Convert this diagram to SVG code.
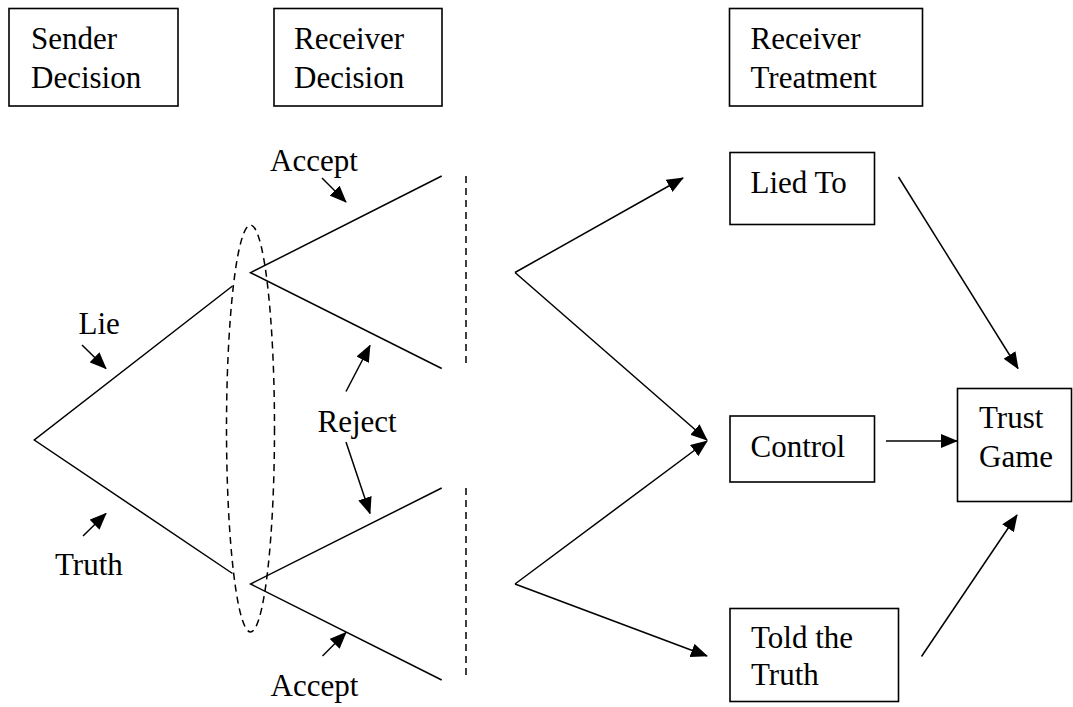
<svg xmlns="http://www.w3.org/2000/svg" width="1073" height="707" viewBox="0 0 1073 707">
<style>
.box{fill:#fff;stroke:#000;stroke-width:1.6}
.t{font-family:"Liberation Serif","Times New Roman",serif;font-size:31px;fill:#000}
.ln{stroke:#000;stroke-width:1.5;fill:none}
.dash{stroke:#000;stroke-width:1.5;fill:none;stroke-dasharray:7 5}
.arr{stroke:#000;stroke-width:1.5;fill:none;marker-end:url(#ah)}
</style>
<defs>
<marker id="ah" markerWidth="17" markerHeight="14" refX="16" refY="7" orient="auto" markerUnits="userSpaceOnUse">
<path d="M0,0 L17,7 L0,14 z" fill="#000"/>
</marker>
</defs>
<rect width="1073" height="707" fill="#fff"/>

<g id="sender-decision">
<rect class="box" x="9" y="8.5" width="169" height="97.5"/>
<text class="t" x="31" y="49">Sender</text>
<text class="t" x="31" y="87.5">Decision</text>
</g>
<g id="receiver-decision">
<rect class="box" x="274" y="8.5" width="168" height="97.5"/>
<text class="t" x="294" y="49">Receiver</text>
<text class="t" x="294" y="87.5">Decision</text>
</g>
<g id="receiver-treatment">
<rect class="box" x="729.5" y="8.5" width="193" height="97.5"/>
<text class="t" x="750.5" y="49">Receiver</text>
<text class="t" x="750.5" y="87.5">Treatment</text>
</g>
<g id="lied-to">
<rect class="box" x="730" y="152.5" width="144.5" height="72"/>
<text class="t" x="750.5" y="192.5">Lied To</text>
</g>
<g id="control">
<rect class="box" x="730" y="416" width="144.5" height="66"/>
<text class="t" x="750.5" y="457">Control</text>
</g>
<g id="told-the-truth">
<rect class="box" x="730" y="608.5" width="168.5" height="93"/>
<text class="t" x="751" y="648">Told the</text>
<text class="t" x="751" y="685">Truth</text>
</g>
<g id="trust-game">
<rect class="box" x="957.5" y="388.5" width="114" height="113"/>
<text class="t" x="979" y="428">Trust</text>
<text class="t" x="979" y="466.5">Game</text>
</g>

<g id="game-tree">
<polyline class="ln" points="232.5,286 34.3,440 232.5,573.5"/>
<polyline class="ln" points="441.7,176 250.5,272.7 441.7,368.5"/>
<polyline class="ln" points="441.7,488 250.5,584 441.7,680"/>
<ellipse class="dash" cx="250.5" cy="428.5" rx="24" ry="203.5"/>
<line class="dash" x1="466" y1="176" x2="466" y2="366"/>
<line class="dash" x1="466" y1="488" x2="466" y2="678"/>
</g>

<g id="labels">
<text class="t" x="78.5" y="334">Lie</text>
<text class="t" x="55" y="575">Truth</text>
<text class="t" x="270" y="171">Accept</text>
<text class="t" x="317.5" y="432">Reject</text>
<text class="t" x="270.5" y="696">Accept</text>
</g>

<g id="connectors">
<line class="arr" x1="82" y1="345" x2="106" y2="368.5"/>
<line class="arr" x1="83" y1="536" x2="106" y2="513.5"/>
<line class="arr" x1="322" y1="178" x2="346" y2="202"/>
<line class="arr" x1="346" y1="391.5" x2="370" y2="345.5"/>
<line class="arr" x1="346" y1="442" x2="370" y2="513.5"/>
<line class="arr" x1="322.5" y1="656" x2="346" y2="632.5"/>
<line class="arr" x1="515" y1="272.5" x2="683" y2="178"/>
<line class="arr" x1="515" y1="272.5" x2="707" y2="440"/>
<line class="arr" x1="515" y1="584" x2="707" y2="441"/>
<line class="arr" x1="515" y1="584" x2="707" y2="656"/>
<line class="arr" x1="898.5" y1="177" x2="1018" y2="368.5"/>
<line class="arr" x1="886" y1="441" x2="957" y2="441"/>
<line class="arr" x1="921.5" y1="656.5" x2="1017" y2="515"/>
</g>
</svg>
